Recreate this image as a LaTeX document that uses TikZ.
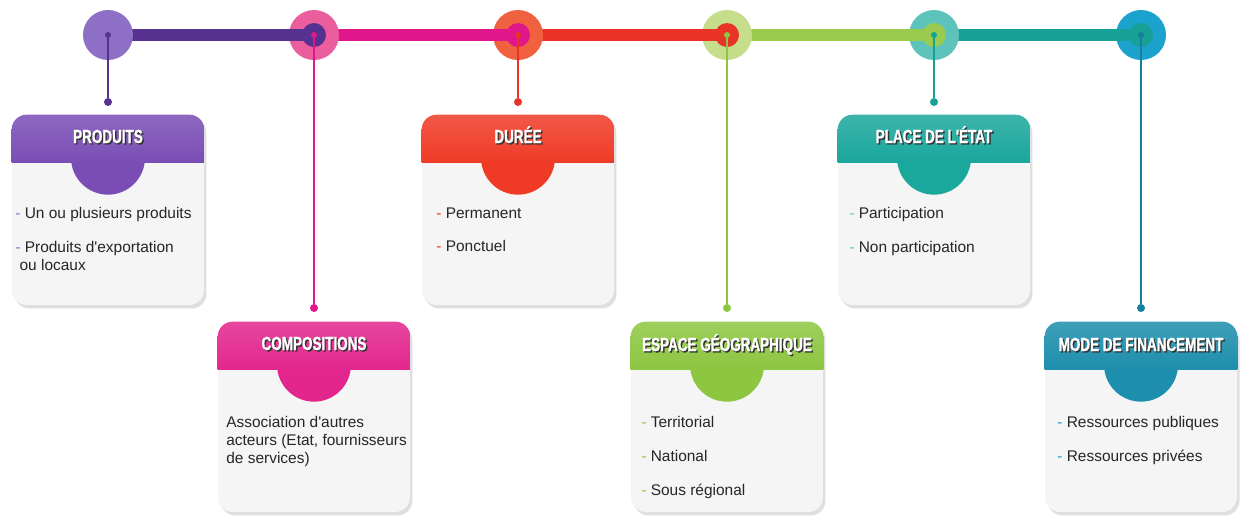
\documentclass[tikz,border=0pt]{standalone}
\usepackage{fontspec}
\setmainfont{Liberation Sans}
\newfontfamily\titlefont[FakeStretch=0.71,FakeBold=1.2]{Liberation Sans}
\usetikzlibrary{calc,shadows}

\definecolor{hdpurple}{HTML}{7A4DB5}
\definecolor{hbpurple}{HTML}{8D70C6}
\definecolor{lnpurple}{HTML}{56318F}
\definecolor{hdpink}{HTML}{E2268E}
\definecolor{hbpink}{HTML}{EB5E9E}
\definecolor{lnpink}{HTML}{E0178A}
\definecolor{hdred}{HTML}{EF3B26}
\definecolor{hbred}{HTML}{F0623F}
\definecolor{lnred}{HTML}{EA3328}
\definecolor{hdgreen}{HTML}{8DC641}
\definecolor{hbgreen}{HTML}{C6DE8C}
\definecolor{lngreen}{HTML}{9BCB4E}
\definecolor{hdteal}{HTML}{1AA79C}
\definecolor{hbteal}{HTML}{5EC3BB}
\definecolor{lnteal}{HTML}{17A196}
\definecolor{hdblue}{HTML}{1D8EAD}
\definecolor{hbblue}{HTML}{1BA2CD}
\definecolor{lnblue}{HTML}{177F9E}

\newcommand{\hdtext}[1]{\makebox[0pt][l]{\hspace{0.8pt}\raisebox{-0.8pt}{\color{black!80}#1}}{\color{white}#1}}

\begin{document}
\begin{tikzpicture}[x=0.02cm, y=0.02cm,
    hub/.style={circle, minimum size=1cm, inner sep=0pt},
    pin/.style={circle, minimum size=0.16cm, inner sep=0pt},
    card/.style={rectangle, rounded corners=8.5pt, minimum width=3.84cm, minimum height=3.8cm, fill=black!4,
      drop shadow={opacity=0.25, shadow xshift=0.05cm, shadow yshift=-0.07cm}},
    bar/.style={line width=6.8pt},
    link/.style={line width=1.1pt},
    title/.style={font=\titlefont\bfseries\fontsize{10.8}{12}\selectfont, inner sep=0pt, anchor=base},
    item/.style={font=\fontsize{8.8}{10.2}\selectfont, align=left, inner sep=0pt, anchor=north west, text=black!85}]
  \fill[white] (0,0) rectangle (1243,-522);
  \useasboundingbox (0,0) rectangle (1243,-522);

  % cards
  \node[card] (b1) at (108,-210) {};
  \node[card] (b2) at (314,-417) {};
  \node[card] (b3) at (518,-210) {};
  \node[card] (b4) at (727,-417) {};
  \node[card] (b5) at (934,-210) {};
  \node[card] (b6) at (1141,-417) {};

  \begin{scope}
    \clip[rounded corners=8.5pt] (b1.south west) rectangle (b1.north east);
    \fill[hdpurple] ($(b1.north)+(0,-43)$) circle (0.74cm);
    \shade[top color=hdpurple!85!white, bottom color=hdpurple] (b1.north west) rectangle ($(b1.north east)+(0,-48)$);
  \end{scope}
  \begin{scope}
    \clip[rounded corners=8.5pt] (b2.south west) rectangle (b2.north east);
    \fill[hdpink] ($(b2.north)+(0,-43)$) circle (0.74cm);
    \shade[top color=hdpink!85!white, bottom color=hdpink] (b2.north west) rectangle ($(b2.north east)+(0,-48)$);
  \end{scope}
  \begin{scope}
    \clip[rounded corners=8.5pt] (b3.south west) rectangle (b3.north east);
    \fill[hdred] ($(b3.north)+(0,-43)$) circle (0.74cm);
    \shade[top color=hdred!85!white, bottom color=hdred] (b3.north west) rectangle ($(b3.north east)+(0,-48)$);
  \end{scope}
  \begin{scope}
    \clip[rounded corners=8.5pt] (b4.south west) rectangle (b4.north east);
    \fill[hdgreen] ($(b4.north)+(0,-43)$) circle (0.74cm);
    \shade[top color=hdgreen!85!white, bottom color=hdgreen] (b4.north west) rectangle ($(b4.north east)+(0,-48)$);
  \end{scope}
  \begin{scope}
    \clip[rounded corners=8.5pt] (b5.south west) rectangle (b5.north east);
    \fill[hdteal] ($(b5.north)+(0,-43)$) circle (0.74cm);
    \shade[top color=hdteal!85!white, bottom color=hdteal] (b5.north west) rectangle ($(b5.north east)+(0,-48)$);
  \end{scope}
  \begin{scope}
    \clip[rounded corners=8.5pt] (b6.south west) rectangle (b6.north east);
    \fill[hdblue] ($(b6.north)+(0,-43)$) circle (0.74cm);
    \shade[top color=hdblue!85!white, bottom color=hdblue] (b6.north west) rectangle ($(b6.north east)+(0,-48)$);
  \end{scope}

  \node[title] (t1) at (108,-143) {\hdtext{PRODUITS}};
  \node[title] (t2) at (314,-350) {\hdtext{COMPOSITIONS}};
  \node[title] (t3) at (518,-143) {\hdtext{DURÉE}};
  \node[title] (t4) at (727,-351) {\hdtext{ESPACE GÉOGRAPHIQUE}};
  \node[title] (t5) at (934,-143) {\hdtext{PLACE DE L'ÉTAT}};
  \node[title] (t6) at (1141,-351) {\hdtext{MODE DE FINANCEMENT}};

  \node[item] (i1) at (15,-207) {{\color{hbpurple}-} Un ou plusieurs produits\\[9pt]
    {\color{hbpurple}-} Produits d\textquotesingle exportation\\ \ ou locaux};
  \node[item] (i2) at (226,-416) {Association d\textquotesingle autres\\ acteurs (Etat, fournisseurs\\ de services)};
  \node[item] (i3) at (436,-207) {{\color{hdred}-} Permanent\\[9pt] {\color{hdred}-} Ponctuel};
  \node[item] (i4) at (641,-416) {{\color{hdgreen}-} Territorial\\[9pt] {\color{hdgreen}-} National\\[9pt]
    {\color{hdgreen}-} Sous régional};
  \node[item] (i5) at (849,-207) {{\color{hbteal}-} Participation\\[9pt] {\color{hbteal}-} Non participation};
  \node[item] (i6) at (1057,-416) {{\color{hbblue}-} Ressources publiques\\[9pt] {\color{hbblue}-} Ressources privées};

  % timeline
  \coordinate (h1) at (108,-35);
  \coordinate (h2) at (314,-35);
  \coordinate (h3) at (518,-35);
  \coordinate (h4) at (727,-35);
  \coordinate (h5) at (934,-35);
  \coordinate (h6) at (1141,-35);
  \node[hub, fill=hbblue] (c6) at (h6) {};
  \draw[bar, lnteal] (h5) -- (h6);
  \node[hub, fill=hbteal] (c5) at (h5) {};
  \draw[bar, lngreen] (h4) -- (h5);
  \node[hub, fill=hbgreen] (c4) at (h4) {};
  \draw[bar, lnred] (h3) -- (h4);
  \node[hub, fill=hbred] (c3) at (h3) {};
  \draw[bar, lnpink] (h2) -- (h3);
  \node[hub, fill=hbpink] (c2) at (h2) {};
  \draw[bar, lnpurple] (h1) -- (h2);
  \node[hub, fill=hbpurple] (c1) at (h1) {};
  \fill[lnpurple] (h2) circle (0.24cm);
  \fill[lnpink] (h3) circle (0.24cm);
  \fill[lnred] (h4) circle (0.24cm);
  \fill[lngreen] (h5) circle (0.24cm);
  \fill[lnteal] (h6) circle (0.24cm);

  % links down to the cards
  \node[pin, fill=lnpurple] (p1) at (108,-102) {};
  \node[pin, fill=lnpink] (p2) at (314,-308) {};
  \node[pin, fill=lnred] (p3) at (518,-102) {};
  \node[pin, fill=hdgreen] (p4) at (727,-308) {};
  \node[pin, fill=lnteal] (p5) at (934,-102) {};
  \node[pin, fill=lnblue] (p6) at (1141,-308) {};
  \draw[link, lnpurple] (h1) -- (p1);
  \draw[link, lnpink] (h2) -- (p2);
  \draw[link, lnred] (h3) -- (p3);
  \draw[link, hdgreen] (h4) -- (p4);
  \draw[link, lnteal] (h5) -- (p5);
  \draw[link, lnblue] (h6) -- (p6);
  \fill[lnpurple] (h1) circle (0.06cm);
  \fill[lnpink] (h2) circle (0.06cm);
  \fill[lnred] (h3) circle (0.06cm);
  \fill[hdgreen] (h4) circle (0.06cm);
  \fill[lnteal] (h5) circle (0.06cm);
  \fill[lnblue] (h6) circle (0.06cm);
\end{tikzpicture}
\end{document}
